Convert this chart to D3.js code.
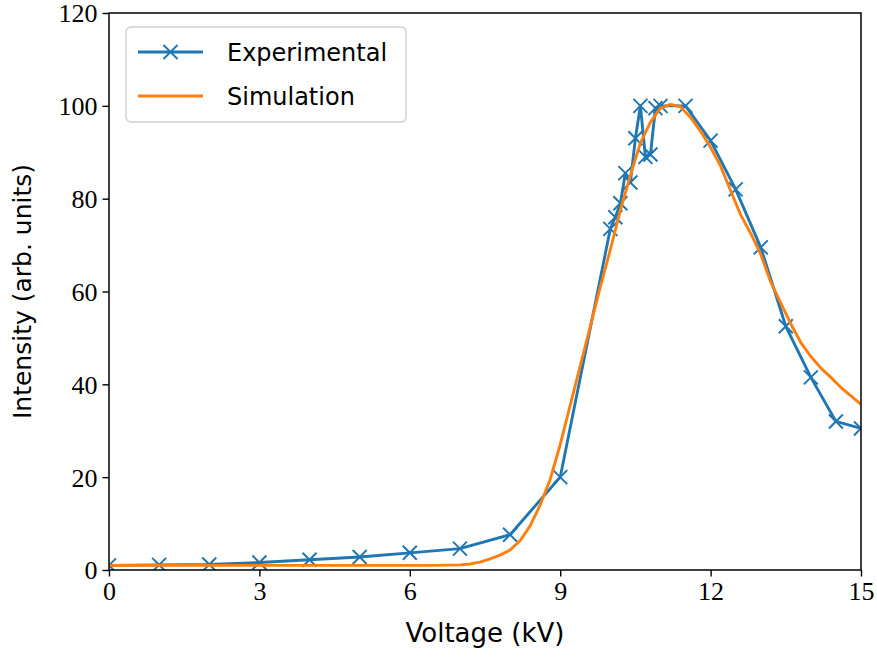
<!DOCTYPE html>
<html>
<head>
<meta charset="utf-8">
<script src="https://cdn.jsdelivr.net/npm/d3@7"></script>
<style>
  body { margin: 0; background: #fff; }
</style>
</head>
<body>
<div id="chart"></div>
<script>
// Data
var exp_voltage = [0, 1, 2, 3, 4, 5, 6, 7, 8, 9, 10, 10.1, 10.2, 10.3, 10.4, 10.5, 10.6, 10.7, 10.8, 10.9, 11, 11.5, 12, 12.5, 13, 13.5, 14, 14.5, 15];
var exp_intensity = [1.0, 1.1, 1.2, 1.6, 2.2, 2.8, 3.7, 4.6, 7.6, 20, 73.5, 76, 79, 85.5, 83.5, 93, 100, 89, 89.5, 99.5, 100, 100, 92.5, 82, 69.5, 52.5, 41.5, 32, 30.5];

var sim_voltage = [0, 1, 2, 3, 4, 5, 6, 6.5, 7, 7.2, 7.4, 7.6, 7.8, 8.0, 8.2, 8.4, 8.6, 8.8, 9.0, 9.2, 9.4, 9.6, 9.8, 10.0, 10.2, 10.4, 10.6, 10.8, 11.0, 11.2, 11.4, 11.6, 11.8, 12.0, 12.2, 12.4, 12.6, 12.8, 13.0, 13.2, 13.4, 13.6, 13.8, 14.0, 14.2, 14.4, 14.6, 14.8, 15];
var sim_intensity = [1.0, 1.0, 1.0, 1.0, 1.0, 1.0, 1.0, 1.0, 1.1, 1.3, 1.7, 2.4, 3.2, 4.3, 6.3, 9.5, 14, 19.5, 27, 35.5, 44, 52.5, 61, 69, 77.5, 85, 92, 96.5, 99.5, 100.3, 99.8, 97.5, 94.5, 91, 87, 81.7, 76.5, 72.5, 68, 62, 57.5, 53, 49, 46, 43.5, 41.5, 39.3, 37.5, 35.7];

var x_ticks = [0, 3, 6, 9, 12, 15];
var y_ticks = [0, 20, 40, 60, 80, 100, 120];
var series_names = ['Experimental', 'Simulation'];

// SVG Element
var chart_width = 877;
var chart_height = 659;
var margin = { top: 13, right: 16, bottom: 89, left: 109 };
var w = chart_width - margin.left - margin.right;
var h = chart_height - margin.top - margin.bottom;

var blue = '#1f77b4';
var orange = '#ff7f0e';

var svg = d3.select('#chart')
    .append('svg')
    .attr('width', chart_width)
    .attr('height', chart_height);

var g = svg.append('g')
    .attr('transform', 'translate(' + margin.left + ',' + margin.top + ')');

// scales
var x_scale = d3.scaleLinear().domain([0, 15]).range([0, w]);
var y_scale = d3.scaleLinear().domain([0, 120]).range([h, 0]);

svg.append('defs').append('clipPath')
    .attr('id', 'clip')
    .append('rect')
    .attr('width', w)
    .attr('height', h);

var plot = g.append('g').attr('clip-path', 'url(#clip)');

var exp_data = exp_voltage.map(function (v, i) { return [v, exp_intensity[i]]; });
var sim_data = sim_voltage.map(function (v, i) { return [v, sim_intensity[i]]; });

var line = d3.line()
    .x(function (d) { return x_scale(d[0]); })
    .y(function (d) { return y_scale(d[1]); });

// Experimental line + x markers
plot.append('path')
    .datum(exp_data)
    .attr('d', line)
    .attr('fill', 'none')
    .attr('stroke', blue)
    .attr('stroke-width', 2.9)
    .attr('stroke-linejoin', 'round');

var ms = 7;
plot.selectAll('.marker')
    .data(exp_data)
    .enter()
    .append('path')
    .attr('class', 'marker')
    .attr('transform', function (d) { return 'translate(' + x_scale(d[0]) + ',' + y_scale(d[1]) + ')'; })
    .attr('d', 'M' + -ms + ',' + -ms + 'L' + ms + ',' + ms + 'M' + -ms + ',' + ms + 'L' + ms + ',' + -ms)
    .attr('stroke', blue)
    .attr('stroke-width', 2);

// Simulation line
plot.append('path')
    .datum(sim_data)
    .attr('d', line)
    .attr('fill', 'none')
    .attr('stroke', orange)
    .attr('stroke-width', 2.9)
    .attr('stroke-linejoin', 'round');

// Axes
var tick_font = '"Liberation Serif", "DejaVu Serif", serif';
var label_font = '"DejaVu Sans", sans-serif';

var x_axis = g.append('g')
    .attr('transform', 'translate(0,' + h + ')')
    .call(d3.axisBottom(x_scale).tickValues(x_ticks).tickSize(6.5).tickPadding(5));

var y_axis = g.append('g')
    .call(d3.axisLeft(y_scale).tickValues(y_ticks).tickSize(6.5).tickPadding(5));

[x_axis, y_axis].forEach(function (ax) {
    ax.select('.domain').remove();
    ax.selectAll('line').attr('stroke', '#000').attr('stroke-width', 1.4);
    ax.selectAll('text')
        .attr('font-family', tick_font)
        .attr('font-size', 26)
        .attr('fill', '#000');
});
y_axis.selectAll('text').attr('dy', '0.34em');

// frame
g.append('rect')
    .attr('width', w)
    .attr('height', h)
    .attr('fill', 'none')
    .attr('stroke', '#000')
    .attr('stroke-width', 1.5);

// axis labels
svg.append('text')
    .text('Voltage (kV)')
    .attr('x', margin.left + w / 2)
    .attr('y', 642)
    .attr('text-anchor', 'middle')
    .attr('font-family', label_font)
    .attr('font-size', 26)
    .attr('fill', '#000');

svg.append('text')
    .text('Intensity (arb. units)')
    .attr('transform', 'translate(31,' + (margin.top + h / 2) + ') rotate(-90)')
    .attr('text-anchor', 'middle')
    .attr('font-family', label_font)
    .attr('font-size', 25)
    .attr('fill', '#000');

// Legend
var legend = svg.append('g').attr('transform', 'translate(126,27)');
legend.append('rect')
    .attr('width', 280)
    .attr('height', 95)
    .attr('rx', 5)
    .attr('fill', '#fff')
    .attr('fill-opacity', 0.8)
    .attr('stroke', '#d0d0d0')
    .attr('stroke-width', 1.4);

var legend_colors = [blue, orange];
series_names.forEach(function (name, i) {
    var yy = 25 + i * 44;
    legend.append('line')
        .attr('x1', 12).attr('x2', 77)
        .attr('y1', yy).attr('y2', yy)
        .attr('stroke', legend_colors[i])
        .attr('stroke-width', 2.9);
    if (i === 0) {
        legend.append('path')
            .attr('transform', 'translate(44.5,' + yy + ')')
            .attr('d', 'M' + -ms + ',' + -ms + 'L' + ms + ',' + ms + 'M' + -ms + ',' + ms + 'L' + ms + ',' + -ms)
            .attr('stroke', blue)
            .attr('stroke-width', 2);
    }
    legend.append('text')
        .text(name)
        .attr('x', 101)
        .attr('y', yy + 8.5)
        .attr('font-family', label_font)
        .attr('font-size', 24)
        .attr('fill', '#000');
});
</script>
</body>
</html>
